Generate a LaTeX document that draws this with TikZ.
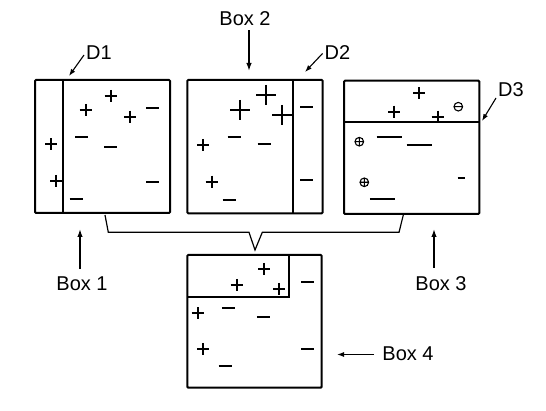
\documentclass[tikz,border=0pt]{standalone}
\usepackage{fontspec}
\setmainfont{Liberation Sans}
\usetikzlibrary{arrows.meta}
\tikzset{
  frame/.style={line width=2pt, rounded corners=1pt},
  divider/.style={line width=1.8pt},
  lab/.style={font=\fontsize{20}{20}\selectfont, inner sep=0pt, anchor=base},
  arr/.style={line width=1.5pt, -{Latex[length=8pt,width=5.5pt]}},
  thinarr/.style={line width=1.1pt, -{Latex[length=7pt,width=5pt]}},
  brace/.style={line width=1.2pt},
  pics/pplus/.style={code={\draw[line width=2pt] (-6,0)--(6,0) (0,-6)--(0,6);}},
  pics/mminus/.style={code={\draw[line width=2pt] (-6.5,0)--(6.5,0);}},
  pics/bigplus/.style={code={\draw[line width=1.4pt] (-10,0)--(10,0) (0,-10)--(0,10);}},
  pics/lminus/.style={code={\draw[line width=2pt] (-12.5,0)--(12.5,0);}},
  pics/sminus/.style={code={\draw[line width=2pt] (-3.5,0)--(3.5,0);}},
  pics/oplus/.style={code={\draw[line width=1.1pt] (0,0) circle (4.3) (-4.3,0)--(4.3,0) (0,-4.3)--(0,4.3);}},
  pics/ominus/.style={code={\draw[line width=1.1pt] (0,0) circle (4.3) (-4.3,0)--(4.3,0);}},
}
\begin{document}
\begin{tikzpicture}[x=1pt,y=-1pt]
\useasboundingbox (0,0) rectangle (546,411);

% Box 1
\draw[frame] (35,80) rectangle (170,213);
\draw[divider] (62.7,80) -- (62.7,213);
\pic at (110.7,96) {pplus};
\pic at (85.7,110) {pplus};
\pic at (130,116.7) {pplus};
\pic at (152.7,107.7) {mminus};
\pic at (81.7,136.7) {mminus};
\pic at (110.7,146.7) {mminus};
\pic at (51,144.3) {pplus};
\pic at (56,181) {pplus};
\pic at (152.7,181.7) {mminus};
\pic at (76,199.3) {mminus};

% Box 2
\draw[frame] (187.3,80) rectangle (322.7,213.3);
\draw[divider] (293.3,80) -- (293.3,213.3);
\pic at (266,95) {bigplus};
\pic at (240,110) {bigplus};
\pic at (282,115) {bigplus};
\pic at (234,136.7) {mminus};
\pic at (264,144.3) {mminus};
\pic at (203.3,145) {pplus};
\pic at (211.7,181.7) {pplus};
\pic at (229,200) {mminus};
\pic at (306.7,106.7) {mminus};
\pic at (306.7,180) {mminus};

% Box 3
\draw[frame] (344,80.7) rectangle (479.3,214);
\draw[divider] (344,122.3) -- (479.3,122.3);
\pic at (419,93.3) {pplus};
\pic at (394,111.7) {pplus};
\pic at (437.7,116.7) {pplus};
\pic at (458.3,106.7) {ominus};
\pic at (359.3,141.7) {oplus};
\pic at (389,137.3) {lminus};
\pic at (419,145) {lminus};
\pic at (364.3,182.3) {oplus};
\pic at (461,178.3) {sminus};
\pic at (382.3,199.3) {lminus};

% Box 4
\draw[frame] (187.3,255) rectangle (321.7,387.7);
\draw[divider] (187.3,296.7) -- (289.3,296.7) -- (289.3,255);
\pic at (264.3,269) {pplus};
\pic at (236.7,285) {pplus};
\pic at (279,289) {pplus};
\pic at (307.7,281.7) {mminus};
\pic at (197.7,313.3) {pplus};
\pic at (228.3,308.3) {mminus};
\pic at (263.3,316.7) {mminus};
\pic at (203.3,349) {pplus};
\pic at (225,365.7) {mminus};
\pic at (307.7,349) {mminus};

% Brace
\draw[brace] (105,215) -- (108.3,232.3) -- (249,232.3) -- (255,250) -- (262.3,232.3) -- (399,232.3) -- (403.3,215);

% Labels
\node[lab] (l1) at (82,291) {Box 1};
\node[lab] (l2) at (245,25.7) {Box 2};
\node[lab] (l3) at (441,291) {Box 3};
\node[lab] (l4) at (408,360.5) {Box 4};
\node[lab] (d1) at (99,60) {D1};
\node[lab] (d2) at (337.5,60) {D2};
\node[lab] (d3) at (511,96.5) {D3};

% Arrow tips
\coordinate (t1) at (80,229);
\coordinate (t2) at (249,71);
\coordinate (t3) at (434,229);
\coordinate (t4) at (337,354.5);
\coordinate (td1) at (69,76);
\coordinate (td2) at (305,72);
\coordinate (td3) at (482,121);

\draw[arr, shorten <=8pt] (l1.north -| t1) -- (t1);
\draw[arr, shorten <=4pt] (l2.south -| t2) -- (t2);
\draw[arr, shorten <=9pt] (l3.north -| t3) -- (t3);
\draw[thinarr, shorten <=8pt] (l4.west |- t4) -- (t4);
\draw[thinarr] ([shift={(-2,-5)}]d1.base west) -- (td1);
\draw[thinarr] ([shift={(-2,-6.5)}]d2.base west) -- (td2);
\draw[thinarr] ([shift={(-2,1.5)}]d3.base west) -- (td3);
\end{tikzpicture}
\end{document}
